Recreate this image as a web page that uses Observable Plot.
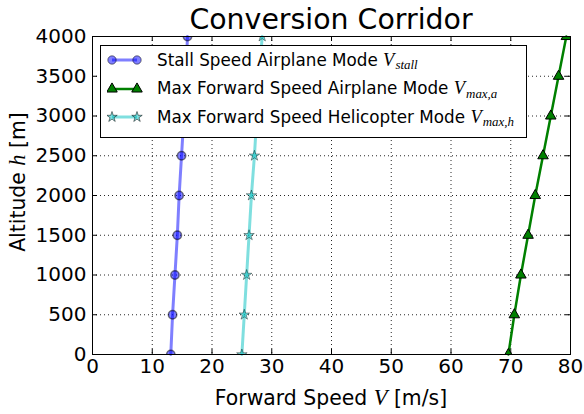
<!DOCTYPE html>
<html><head><meta charset="utf-8">
<script src="https://cdn.jsdelivr.net/npm/d3@7"></script>
<script src="https://cdn.jsdelivr.net/npm/@observablehq/plot@0.6"></script>
<style>
body{margin:0;background:#fff;font-family:"DejaVu Sans",sans-serif;color:#000;}
#wrap{position:relative;width:584px;height:414px;overflow:hidden;background:#fff;}
#wrap > svg{position:absolute;left:0;top:0;}
.m{font-family:"Liberation Serif","DejaVu Serif",serif;font-style:italic;font-size:1.1em;}
.m sub{font-size:0.7em;vertical-align:-0.3em;line-height:0;margin-left:1px;}
#title{position:absolute;left:0;width:662px;top:3px;text-align:center;font-size:28.4px;line-height:34px;white-space:nowrap;}
#xlabel{position:absolute;left:92px;width:478px;top:386px;text-align:center;font-size:20.4px;line-height:24px;white-space:nowrap;}
#ylabel{position:absolute;left:-141px;top:170px;width:318px;text-align:center;font-size:20.4px;line-height:24px;transform:rotate(-90deg);white-space:nowrap;}
#legend{position:absolute;left:100px;top:45px;width:425px;height:91px;border:1px solid #000;background:#fff;font-size:16.8px;}
.row{position:absolute;left:6px;height:20px;display:flex;align-items:center;white-space:nowrap;}
.row svg{margin-right:14px;display:block;}
</style></head><body><div id="wrap">
<div id="title">Conversion Corridor</div>
<div id="xlabel">Forward Speed <span class="m">V</span> [m/s]</div>
<div id="ylabel">Altitude <span class="m">h</span> [m]</div>
</div>
<script>
// Data
const altitudes = [0, 500, 1000, 1500, 2000, 2500, 3000, 3500, 4000];
const stallSpeed = [13.1, 13.4, 13.8, 14.2, 14.5, 14.9, 15.3, 15.6, 15.9];
const maxSpeedAirplane = [69.6, 70.6, 71.7, 72.9, 74.1, 75.4, 76.7, 78.0, 79.3];
const maxSpeedHelicopter = [25.0, 25.4, 25.8, 26.2, 26.6, 27.1, 27.5, 27.9, 28.4];
const xTicks = [0, 10, 20, 30, 40, 50, 60, 70, 80];
const yTicks = [0, 500, 1000, 1500, 2000, 2500, 3000, 3500, 4000];
const legendLabels = [
  ["Stall Speed Airplane Mode ", "V", "stall"],
  ["Max Forward Speed Airplane Mode ", "V", "max,a"],
  ["Max Forward Speed Helicopter Mode ", "V", "max,h"]
];

const stall = altitudes.map((h, i) => ({h, v: stallSpeed[i]}));
const plane = altitudes.map((h, i) => ({h, v: maxSpeedAirplane[i]}));
const heli = altitudes.map((h, i) => ({h, v: maxSpeedHelicopter[i]}));

const W = 584, H = 414, mL = 92, mR = 14, mT = 36, mB = 60;
const innerH = H - mT - mB, innerW = W - mL - mR;
const tk = 5;
const gridStyle = {stroke: "black", strokeOpacity: 0.85, strokeWidth: 1, strokeDasharray: "1,3"};

const chart = Plot.plot({
  width: W, height: H,
  marginLeft: mL, marginRight: mR, marginTop: mT, marginBottom: mB,
  x: {domain: [0, 80]},
  y: {domain: [0, 4000]},
  style: {fontFamily: "DejaVu Sans", fontSize: "20px", color: "black", background: "white"},
  marks: [
    Plot.ruleX(xTicks, {x: d => d, ...gridStyle}),
    Plot.ruleY(yTicks, {y: d => d, ...gridStyle}),
    Plot.tickX(xTicks, {x: d => d, insetTop: innerH - tk, stroke: "black"}),
    Plot.tickX(xTicks, {x: d => d, insetBottom: innerH - tk, stroke: "black"}),
    Plot.tickY(yTicks, {y: d => d, insetRight: innerW - tk, stroke: "black"}),
    Plot.tickY(yTicks, {y: d => d, insetLeft: innerW - tk, stroke: "black"}),
    Plot.axisX(xTicks, {tickSize: 0, tickPadding: 4, label: null, fontSize: 20, tickFormat: d => String(d)}),
    Plot.axisY(yTicks, {tickSize: 0, tickPadding: 6, label: null, fontSize: 20, tickFormat: d => String(d)}),
    Plot.line(stall, {x: "v", y: "h", stroke: "blue", strokeOpacity: 0.5, strokeWidth: 3}),
    Plot.dot(stall, {x: "v", y: "h", symbol: "circle", r: 4.2, fill: "blue", fillOpacity: 0.5, stroke: "black", strokeOpacity: 0.5, clip: true}),
    Plot.line(plane, {x: "v", y: "h", stroke: "green", strokeWidth: 2.5}),
    Plot.dot(plane, {x: "v", y: "h", symbol: "triangle", r: 3.9, fill: "green", stroke: "black", strokeWidth: 1, clip: true}),
    Plot.line(heli, {x: "v", y: "h", stroke: "#00bfbf", strokeOpacity: 0.5, strokeWidth: 3}),
    Plot.dot(heli, {x: "v", y: "h", symbol: "star", r: 3.3, fill: "#00bfbf", fillOpacity: 0.5, stroke: "black", strokeOpacity: 0.5, strokeWidth: 0.8, clip: true}),
    Plot.frame({stroke: "black", strokeWidth: 1})
  ]
});
const wrap = document.getElementById("wrap");
wrap.insertBefore(chart, wrap.firstChild);

// Legend (HTML overlay inside the axes)
const legend = document.createElement("div");
legend.id = "legend";
const sw = [
  {stroke: "blue", so: 0.5, w: 3, sym: d3.symbolCircle, size: 55, fill: "blue", fo: 0.5, ms: "black", mso: 0.5},
  {stroke: "green", so: 1, w: 2.5, sym: d3.symbolTriangle, size: 48, fill: "green", fo: 1, ms: "black", mso: 1},
  {stroke: "#00bfbf", so: 0.5, w: 3, sym: d3.symbolStar, size: 34, fill: "#00bfbf", fo: 0.5, ms: "black", mso: 0.5}
];
const rowY = [4, 32.5, 61];
legendLabels.forEach((lab, i) => {
  const row = document.createElement("div");
  row.className = "row";
  row.style.top = rowY[i] + "px";
  const s = sw[i];
  const svg = d3.create("svg").attr("width", 36).attr("height", 16);
  svg.append("line").attr("x1", 5).attr("x2", 30).attr("y1", 8).attr("y2", 8)
    .attr("stroke", s.stroke).attr("stroke-opacity", s.so).attr("stroke-width", s.w);
  [5, 30].forEach(cx => svg.append("path").attr("d", d3.symbol(s.sym, s.size)())
    .attr("transform", `translate(${cx},8)`).attr("fill", s.fill).attr("fill-opacity", s.fo)
    .attr("stroke", s.ms).attr("stroke-opacity", s.mso));
  row.appendChild(svg.node());
  const txt = document.createElement("span");
  txt.innerHTML = lab[0] + `<span class="m">${lab[1]}<sub>${lab[2]}</sub></span>`;
  row.appendChild(txt);
  legend.appendChild(row);
});
wrap.appendChild(legend);
</script>
</body></html>
